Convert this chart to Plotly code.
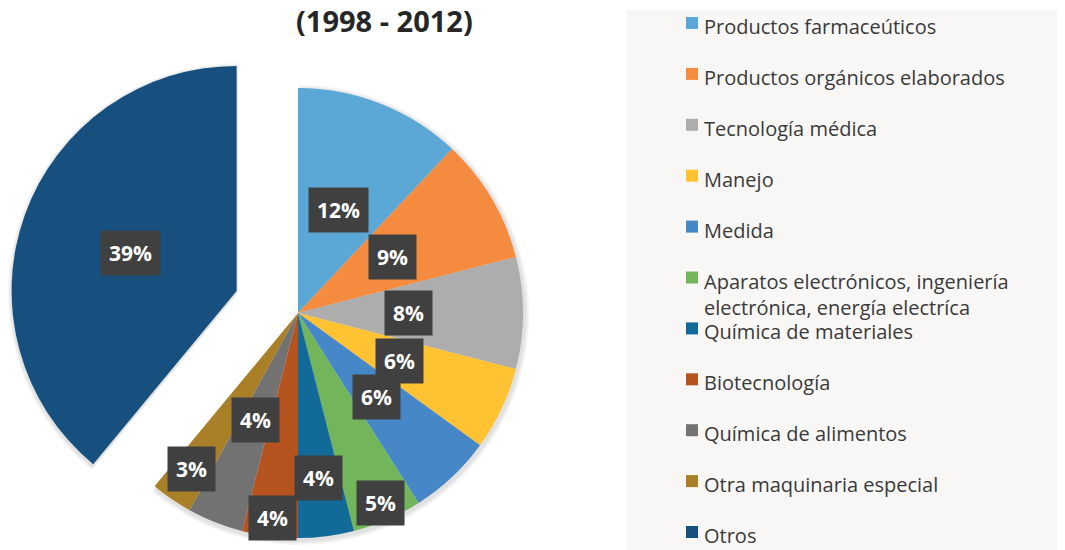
import math
import plotly.graph_objects as go

# ---------------- data ----------------
categories = [
    "Productos farmaceúticos",
    "Productos orgánicos elaborados",
    "Tecnología médica",
    "Manejo",
    "Medida",
    "Aparatos electrónicos, ingeniería<br>electrónica, energía electríca",
    "Química de materiales",
    "Biotecnología",
    "Química de alimentos",
    "Otra maquinaria especial",
    "Otros",
]
values = [12, 9, 8, 6, 6, 5, 4, 4, 4, 3, 39]
title_text = "(1998 - 2012)"

# ---------------- styles ----------------
colors = [
    "#5ba8d6", "#f58b3f", "#adadad", "#fec232", "#4687c7", "#72b55a",
    "#126a98", "#b5541f", "#727272", "#a98028", "#17507f",
]
pulled_index = 10
PULL = 0.29
label_radius = [0.49, 0.49, 0.49, 0.5, 0.51, 0.92, 0.74, 0.92, 0.51, 0.84, 0.5]

OFF = 8                      # page body margin
W, H = 1065 - OFF, 550 - OFF  # figure size
R = 225
CX, CY = 298, 313            # page pixel positions
FONT = "Open Sans"
TRANSPARENT = "rgba(0,0,0,0)"


def px_x(x):
    return (x - OFF) / W


def px_y(y):
    return 1 - (y - OFF) / H


total = sum(values)
cum = [sum(values[:i]) for i in range(len(values))]
mid_deg = [(c + v / 2) / total * 360 for c, v in zip(cum, values)]


def domain(cx, cy, r):
    return dict(x=[max(0, px_x(cx - r)), min(1, px_x(cx + r))],
                y=[max(0, px_y(cy + r)), min(1, px_y(cy - r))])


# centre of the pulled slice
a = math.radians(mid_deg[pulled_index])
PCX = CX + PULL * R * math.sin(a)
PCY = CY - PULL * R * math.cos(a)

colors_main = [TRANSPARENT if i == pulled_index else c for i, c in enumerate(colors)]
colors_pulled = [c if i == pulled_index else TRANSPARENT for i, c in enumerate(colors)]

fig = go.Figure()
common = dict(
    labels=categories, values=values, sort=False, direction="clockwise",
    rotation=0, textinfo="none", showlegend=False,
)

# soft shadow layers
for k in (5, 3.5, 2):
    sh = "rgba(0,0,0,0.04)"
    for (cx, cy), cols in (((CX, CY), colors_main), ((PCX, PCY), colors_pulled)):
        shcols = [sh if c != TRANSPARENT else TRANSPARENT for c in cols]
        fig.add_trace(go.Pie(domain=domain(cx + 1, cy + 2, R + k),
                             marker=dict(colors=shcols, line=dict(width=0)),
                             hoverinfo="skip", **common))

fig.add_trace(go.Pie(domain=domain(CX, CY, R), marker=dict(colors=colors_main, line=dict(width=0)),
                     hoverinfo="label+percent", **common))
fig.add_trace(go.Pie(domain=domain(PCX, PCY, R), marker=dict(colors=colors_pulled, line=dict(width=0)),
                     hoverinfo="label+percent", **common))

annotations = []
shapes = []

# percentage labels with dark boxes
for i, v in enumerate(values):
    cx, cy = (PCX, PCY) if i == pulled_index else (CX, CY)
    ang = math.radians(mid_deg[i])
    lx = cx + label_radius[i] * R * math.sin(ang)
    ly = cy - label_radius[i] * R * math.cos(ang)
    annotations.append(dict(
        x=px_x(lx), y=px_y(ly), xref="paper", yref="paper",
        text=f"{round(v / total * 100)}%", showarrow=False,
        font=dict(family=FONT, size=21, color="white", weight="bold"),
        bgcolor="#404040", borderpad=8, xanchor="center", yanchor="middle",
    ))

# title
annotations.append(dict(
    x=px_x(384), y=px_y(20), xref="paper", yref="paper", text=title_text,
    showarrow=False, xanchor="center", yanchor="middle",
    font=dict(family=FONT, size=29, color="#262626", weight="bold"),
))

# legend panel
shapes.append(dict(type="rect", xref="paper", yref="paper",
                   x0=px_x(627), x1=1, y0=0, y1=px_y(10),
                   fillcolor="#f8f7f6", line=dict(width=0), layer="below"))
LEG_TOP, LEG_PITCH, LEG_FS = 24, 50.9, 20
line_h = LEG_FS * 1.3
for i, name in enumerate(categories):
    yc = LEG_TOP + i * LEG_PITCH
    shapes.append(dict(type="rect", xref="paper", yref="paper",
                       x0=px_x(686), x1=px_x(698), y0=px_y(yc + 5), y1=px_y(yc - 7),
                       fillcolor=colors[i], line=dict(width=0)))
    annotations.append(dict(
        x=px_x(702), y=px_y(yc - line_h / 2), xref="paper", yref="paper",
        text=name, showarrow=False, xanchor="left", yanchor="top", align="left",
        font=dict(family=FONT, size=LEG_FS, color="#3a3a3a"),
    ))

fig.update_layout(
    width=W, height=H, margin=dict(l=0, r=0, t=0, b=0),
    paper_bgcolor="white", plot_bgcolor="white",
    annotations=annotations, shapes=shapes, showlegend=False,
)
fig.write_html("out.html")
